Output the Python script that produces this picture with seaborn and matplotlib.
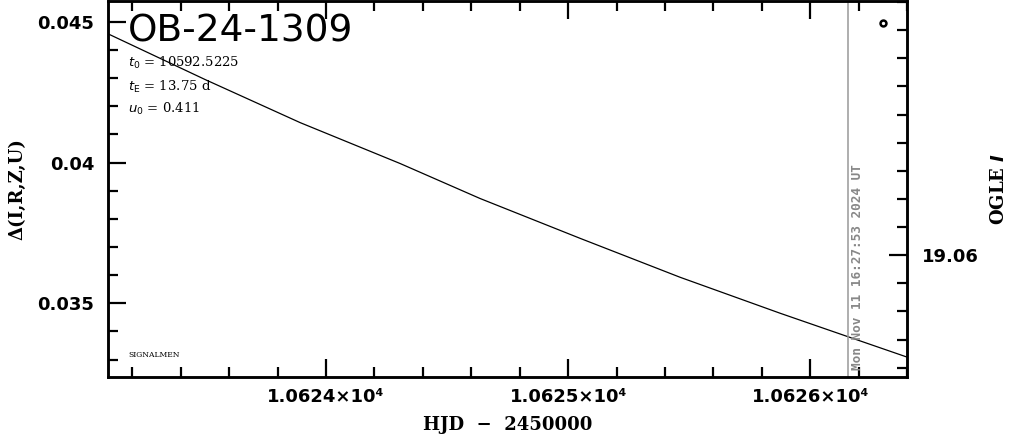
import numpy as np
import pandas as pd
import matplotlib
matplotlib.use("Agg")
import matplotlib.pyplot as plt
import matplotlib.ticker as mticker
import seaborn as sns

# model curve (HJD - 2450000, delta)
hjd = [10623.099, 10623.500, 10623.893, 10624.306, 10624.636, 10625.050,
       10625.463, 10625.876, 10626.150, 10626.401]
delta = [0.044574, 0.042950, 0.041418, 0.039965, 0.038723, 0.037305,
         0.035922, 0.034645, 0.033830, 0.033085]

# single data point at top right
pt_hjd = [10626.302]
pt_delta = [0.044965]

event_name = "OB-24-1309"
t0_txt = "10592.5225"
tE_txt = "13.75 d"
u0_txt = "0.411"
now_hjd = 10626.157
stamp = "Mon Nov 11 16:27:53 2024 UT"

sns.set_style("ticks")
plt.rcParams["font.family"] = ["DejaVu Sans"]
plt.rcParams["text.color"] = "black"
plt.rcParams["axes.edgecolor"] = "black"
plt.rcParams["axes.labelcolor"] = "black"
plt.rcParams["xtick.color"] = "black"
plt.rcParams["ytick.color"] = "black"

fig = plt.figure(figsize=(10.11, 4.34), dpi=100)
ax = fig.add_axes([108 / 1011, 1 - 377 / 434, (907 - 108) / 1011, 376 / 434])

df = pd.DataFrame({"hjd": hjd, "delta": delta})
sns.lineplot(data=df, x="hjd", y="delta", ax=ax, color="black", lw=0.9)
sns.scatterplot(x=pt_hjd, y=pt_delta, ax=ax, marker="o", s=18,
                facecolor="white", edgecolor="black", linewidth=1.8, zorder=5)

ax.axvline(now_hjd, color="#999999", lw=1.1)
ax.text(now_hjd + 0.037, 0.03262, stamp, rotation=90, color="#888888",
        fontsize=9.2, family="DejaVu Sans Mono", fontweight="bold",
        ha="center", va="bottom")

ax.set_xlim(10623.099, 10626.40)
ax.set_ylim(0.03238, 0.04574)

ax.xaxis.set_major_locator(mticker.MultipleLocator(1))
ax.xaxis.set_minor_locator(mticker.MultipleLocator(0.2))
ax.xaxis.set_major_formatter(mticker.FuncFormatter(lambda v, p: f"{v / 1e4:.4f}×10⁴"))
ax.yaxis.set_major_locator(mticker.MultipleLocator(0.005))
ax.yaxis.set_minor_locator(mticker.MultipleLocator(0.001))
ax.yaxis.set_major_formatter(mticker.FuncFormatter(lambda v, p: f"{v:g}"))

ax.tick_params(axis="x", which="both", direction="in", top=True, bottom=True, width=1.6)
ax.tick_params(axis="x", which="major", length=13, pad=8, labelsize=13)
ax.tick_params(axis="x", which="minor", length=7)
ax.tick_params(axis="y", which="both", direction="in", left=True, right=False, width=1.6)
ax.tick_params(axis="y", which="major", length=13, pad=10, labelsize=13)
ax.tick_params(axis="y", which="minor", length=7)
for lab in ax.get_xticklabels() + ax.get_yticklabels():
    lab.set_fontweight("bold")
for sp in ax.spines.values():
    sp.set_linewidth(1.8)
    sp.set_visible(True)

ax.set_xlabel("HJD  −  2450000", family="DejaVu Serif", fontweight="bold", fontsize=13, labelpad=7)
ax.set_ylabel("Δ(I,R,Z,U)", family="DejaVu Serif", fontweight="bold", fontsize=13, labelpad=8)

# right magnitude axis
ax2 = ax.twinx()
ax2.set_ylim(19.06433, 19.05096)
ax2.yaxis.set_major_locator(mticker.MultipleLocator(0.01))
ax2.yaxis.set_minor_locator(mticker.MultipleLocator(0.001))
ax2.yaxis.set_major_formatter(mticker.FuncFormatter(lambda v, p: f"{v:.2f}"))
ax2.tick_params(axis="y", which="both", direction="in", width=1.6)
ax2.tick_params(axis="y", which="major", length=13, pad=11, labelsize=13)
ax2.tick_params(axis="y", which="minor", length=7)
for lab in ax2.get_yticklabels():
    lab.set_fontweight("bold")
for sp in ax2.spines.values():
    sp.set_linewidth(1.8)
ax2.set_ylabel("OGLE $\\mathbfit{I}$", family="DejaVu Serif", fontweight="bold",
               fontsize=13, labelpad=8)

# annotations
ax.text(0.025, 0.92, event_name, transform=ax.transAxes, family="DejaVu Sans",
        fontsize=27, va="center", ha="left")
ax.text(0.025, 0.835, "$t_0$ = " + t0_txt, transform=ax.transAxes,
        family="DejaVu Serif", fontsize=9.5, va="center")
ax.text(0.025, 0.771, "$t_{\\rm E}$ = " + tE_txt, transform=ax.transAxes,
        family="DejaVu Serif", fontsize=9.5, va="center")
ax.text(0.025, 0.713, "$u_0$ = " + u0_txt, transform=ax.transAxes,
        family="DejaVu Serif", fontsize=9.5, va="center")
ax.text(0.025, 0.058, "SIGNALMEN", transform=ax.transAxes,
        family="DejaVu Serif", fontsize=5.5, va="center")

fig.savefig("out.png", dpi=100)
